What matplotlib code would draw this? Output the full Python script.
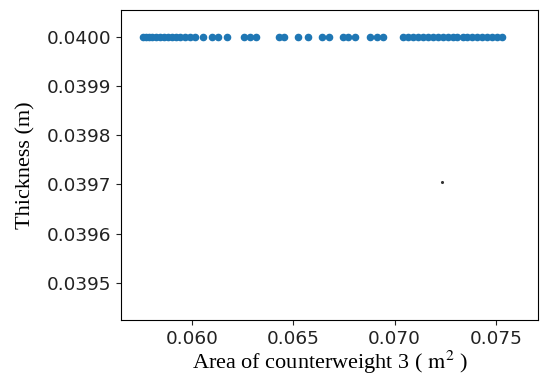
import matplotlib
matplotlib.use("Agg")
import matplotlib.pyplot as plt

# Pareto points: area of counterweight 3 vs thickness
area = [
    0.057586, 0.057734, 0.057882, 0.058030, 0.058227, 0.058424, 0.058621,
    0.058818, 0.059015, 0.059212, 0.059409, 0.059655, 0.059901, 0.060148,
    0.060542, 0.060985, 0.061281, 0.061724, 0.062562, 0.062857, 0.063153,
    0.064286, 0.064532, 0.065222, 0.065714, 0.066404, 0.066749, 0.067438,
    0.067685, 0.068030, 0.068768, 0.069113, 0.069409, 0.070394, 0.070640,
    0.070887, 0.071133, 0.071379, 0.071625, 0.071872, 0.072118, 0.072364,
    0.072611, 0.072857, 0.073103, 0.073350, 0.073596, 0.073842, 0.074089,
    0.074335, 0.074581, 0.074828, 0.075074, 0.075320,
]
thickness = [0.0400] * len(area)

# single stray point
stray_area = [0.07236]
stray_thickness = [0.039705]

plt.rcParams["mathtext.fontset"] = "stix"

fig, ax = plt.subplots(figsize=(5.5, 3.87), dpi=100)
ax.scatter(area, thickness, s=20, color="#1f77b4", zorder=3)
ax.scatter(stray_area, stray_thickness, s=1.5, color="#333333", zorder=3)

ax.set_xlim(0.0565, 0.07707)
ax.set_ylim(0.039424, 0.040055)
ax.set_xticks([0.060, 0.065, 0.070, 0.075])
ax.set_yticks([0.0395, 0.0396, 0.0397, 0.0398, 0.0399, 0.0400])
ax.xaxis.set_major_formatter(matplotlib.ticker.FormatStrFormatter("%.3f"))
ax.yaxis.set_major_formatter(matplotlib.ticker.FormatStrFormatter("%.4f"))
ax.tick_params(labelsize=13.3, colors="#222222")

ax.set_xlabel("Area of counterweight 3 ( $\\mathrm{m}^{2}$ )",
              family="Liberation Serif", fontsize=16, labelpad=1)
ax.set_ylabel("Thickness (m)", family="Liberation Serif", fontsize=16, labelpad=8)

fig.subplots_adjust(left=0.22, right=0.978, top=0.974, bottom=0.173)
fig.savefig("out.png", dpi=100)
